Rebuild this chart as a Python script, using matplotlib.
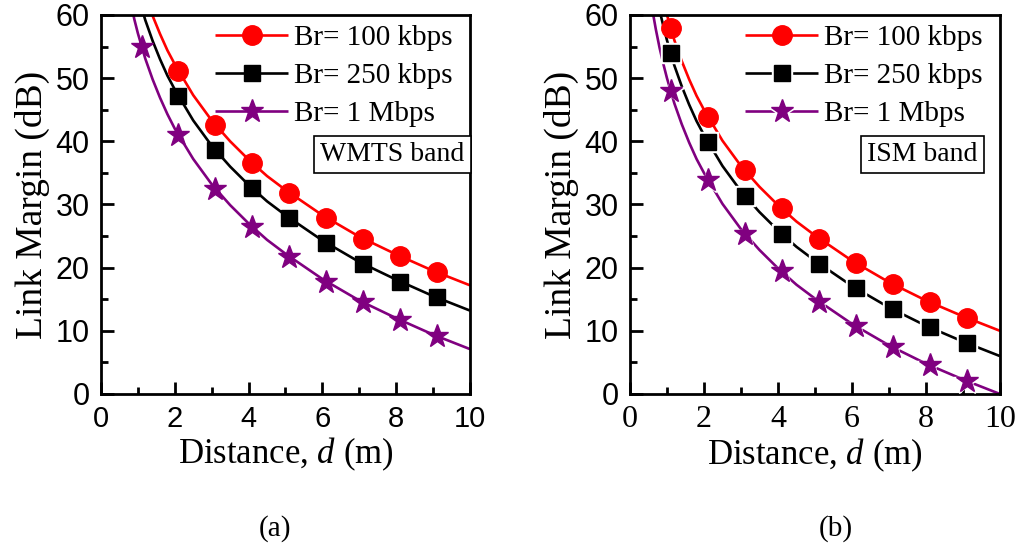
import numpy as np
import matplotlib
matplotlib.use("Agg")
import matplotlib.pyplot as plt
from matplotlib.legend_handler import HandlerTuple

plt.rcParams["mathtext.fontset"] = "custom"
plt.rcParams["mathtext.rm"] = "Liberation Serif"
plt.rcParams["mathtext.it"] = "Liberation Serif:italic"

SERIF = ["Liberation Serif", "DejaVu Serif"]
SANS = ["Liberation Sans", "DejaVu Sans"]

labels = ["Br= 100 kbps", "Br= 250 kbps", "Br= 1 Mbps"]
colors = ["#ff0000", "#000000", "#800080"]
markers = ["o", "s", "*"]
msizes = [14, 11, 17]

# marker positions (m)
d_mark_a = [[2.1, 3.1, 4.1, 5.1, 6.1, 7.1, 8.1, 9.1],
            [2.1, 3.1, 4.1, 5.1, 6.1, 7.1, 8.1, 9.1],
            [1.1, 2.1, 3.1, 4.1, 5.1, 6.1, 7.1, 8.1, 9.1]]
lm_mark_a = [[51.1, 42.6, 36.6, 31.8, 27.9, 24.6, 21.8, 19.3],
             [47.1, 38.6, 32.6, 27.8, 23.9, 20.6, 17.8, 15.3],
             [55.0, 41.0, 32.5, 26.5, 21.7, 17.8, 14.5, 11.7, 9.2]]

d_mark_b = [1.1, 2.1, 3.1, 4.1, 5.1, 6.1, 7.1, 8.1, 9.1]
lm_mark_b = [[57.9, 43.9, 35.4, 29.4, 24.6, 20.7, 17.4, 14.6, 12.1],
             [53.9, 39.9, 31.4, 25.4, 20.6, 16.7, 13.4, 10.6, 8.1],
             [47.9, 33.9, 25.4, 19.4, 14.6, 10.7, 7.4, 4.6, 2.1]]

# curves
d_line_a = [[1.39, 1.6, 1.8, 2.0, 2.5, 3.0, 3.5, 4.0, 4.5, 5.0, 6.0, 7.0, 8.0, 9.0, 10.0],
            [1.16, 1.2, 1.4, 1.6, 1.8, 2.0, 2.5, 3.0, 3.5, 4.0, 4.5, 5.0, 6.0, 7.0, 8.0, 9.0, 10.0],
            [0.88, 0.9, 1.0, 1.2, 1.4, 1.6, 1.8, 2.0, 2.5, 3.0, 3.5, 4.0, 4.5, 5.0, 6.0, 7.0, 8.0, 9.0, 10.0]]
lm_line_a = [[60.0, 57.0, 54.4, 52.2, 47.3, 43.3, 40.0, 37.1, 34.5, 32.3, 28.3, 24.9, 22.1, 19.5, 17.2],
             [60.0, 59.2, 55.9, 53.0, 50.4, 48.2, 43.3, 39.3, 36.0, 33.1, 30.5, 28.3, 24.3, 20.9, 18.1, 15.5, 13.2],
             [60.0, 59.4, 57.1, 53.1, 49.8, 46.9, 44.3, 42.0, 37.2, 33.2, 29.9, 27.0, 24.4, 22.2, 18.2, 14.8, 12.0, 9.4, 7.1]]

d_line_b = [[1.0, 1.2, 1.4, 1.6, 1.8, 2.0, 2.5, 3.0, 3.5, 4.0, 4.5, 5.0, 6.0, 7.0, 8.0, 9.0, 10.0],
            [0.83, 0.9, 1.0, 1.2, 1.4, 1.6, 1.8, 2.0, 2.5, 3.0, 3.5, 4.0, 4.5, 5.0, 6.0, 7.0, 8.0, 9.0, 10.0],
            [0.63, 0.7, 0.8, 0.9, 1.0, 1.2, 1.4, 1.6, 1.8, 2.0, 2.5, 3.0, 3.5, 4.0, 4.5, 5.0, 6.0, 7.0, 8.0, 9.0, 10.0]]
lm_line_b = [[60.0, 56.0, 52.7, 49.8, 47.2, 45.0, 40.1, 36.1, 32.8, 29.9, 27.3, 25.1, 21.1, 17.7, 14.8, 12.3, 10.0],
             [60.0, 58.3, 56.0, 52.0, 48.7, 45.8, 43.2, 41.0, 36.1, 32.1, 28.8, 25.9, 23.3, 21.1, 17.1, 13.7, 10.8, 8.3, 6.0],
             [60.0, 57.7, 54.8, 52.3, 50.0, 46.0, 42.7, 39.8, 37.2, 35.0, 30.1, 26.1, 22.8, 19.9, 17.3, 15.1, 11.1, 7.7, 4.8, 2.3, 0.0]]


def draw_panel(ax, d_line, lm_line, d_mark, lm_mark, band, gaps, xtick_family):
    handles = []
    for i in range(3):
        dm = d_mark[i] if isinstance(d_mark[0], list) else d_mark
        ln, = ax.plot(d_line[i], lm_line[i], color=colors[i], lw=1.9, zorder=2,
                      solid_capstyle="butt")
        parts = [ln]
        if gaps[i]:
            # small white halo so the line stops short of the symbol
            wm, = ax.plot(dm, lm_mark[i], ls="none", marker=markers[i],
                          ms=msizes[i] + 3.5, color="white", mec="white", zorder=3)
            parts.append(wm)
        mk, = ax.plot(dm, lm_mark[i], ls="none", marker=markers[i],
                      ms=msizes[i], color=colors[i], mec=colors[i], zorder=4)
        parts.append(mk)
        handles.append(tuple(parts))

    ax.set_xlim(0, 10)
    ax.set_ylim(0, 60)
    ax.set_xticks([0, 2, 4, 6, 8, 10])
    ax.set_xticks([1, 3, 5, 7, 9], minor=True)
    ax.set_yticks([0, 10, 20, 30, 40, 50, 60])
    ax.set_yticks([5, 15, 25, 35, 45, 55], minor=True)
    ax.tick_params(which="both", direction="in", width=2)
    ax.tick_params(which="major", length=9)
    ax.tick_params(which="minor", length=5)
    ax.tick_params(axis="y", labelsize=22, pad=8)
    ax.tick_params(axis="x", labelsize=21, pad=8)
    for s in ax.spines.values():
        s.set_linewidth(2)
    for t in ax.get_yticklabels():
        t.set_family(SANS)
    for t in ax.get_xticklabels():
        t.set_family(xtick_family)
        if xtick_family is SERIF:
            t.set_fontsize(23)

    ax.set_xlabel("Distance, $\\mathit{d}$ (m)", family=SERIF, fontsize=25, labelpad=2)
    ax.set_ylabel("Link Margin (dB)", family=SERIF, fontsize=27, labelpad=4)

    ax.legend(handles, labels, handler_map={tuple: HandlerTuple(ndivide=1)},
              loc="upper right", bbox_to_anchor=(1.0, 1.02), frameon=False,
              handlelength=2.5, handletextpad=0.2, labelspacing=0.4,
              borderaxespad=0.2, prop={"family": SERIF, "size": 21})
    ax.text(0.79, 0.632, band, transform=ax.transAxes, ha="center", va="center",
            family=SERIF, fontsize=20,
            bbox=dict(boxstyle="square,pad=0.22", fc="white", ec="black", lw=1.2))


fig = plt.figure(figsize=(10.24, 5.56), dpi=100)
ax1 = fig.add_axes([0.0986, 0.2914, 0.3604, 0.6817])
ax2 = fig.add_axes([0.6152, 0.2914, 0.3613, 0.6817])

draw_panel(ax1, d_line_a, lm_line_a, d_mark_a, lm_mark_a, "WMTS band",
           [False, False, False], SANS)
draw_panel(ax2, d_line_b, lm_line_b, d_mark_b, lm_mark_b, "ISM band",
           [False, True, True], SERIF)

fig.text(0.269, 0.05, "(a)", family=SERIF, fontsize=21, ha="center", va="center")
fig.text(0.816, 0.05, "(b)", family=SERIF, fontsize=21, ha="center", va="center")

fig.savefig("out.png", dpi=100)
